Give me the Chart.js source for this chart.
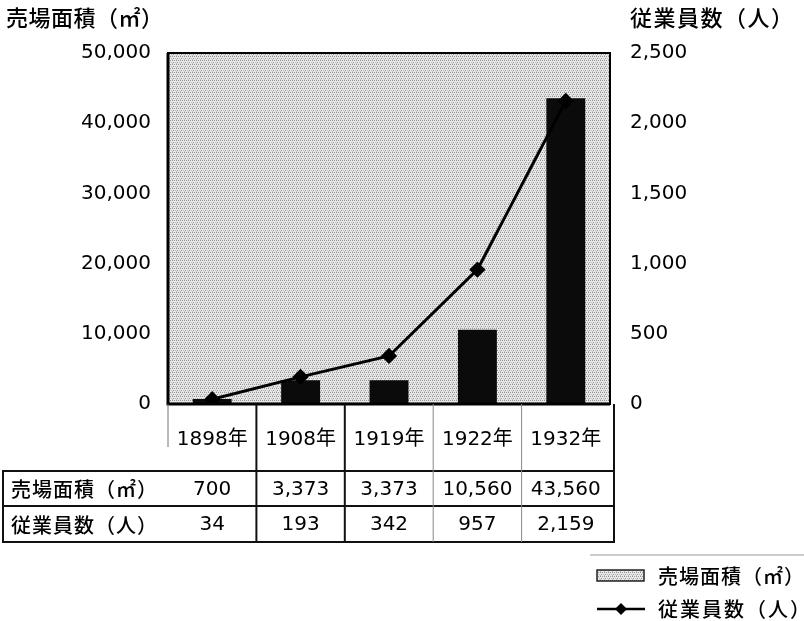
<!DOCTYPE html>
<html>
<head>
<meta charset="utf-8">
<script src="https://cdn.jsdelivr.net/npm/chart.js@4"></script>
<style>
  html, body { margin: 0; padding: 0; background: #fff; }
  #wrap { width: 804px; height: 621px; position: relative; }
</style>
</head>
<body>
<div id="wrap"><canvas id="chart" width="804" height="621"></canvas></div>
<script>
const years = ['1898年', '1908年', '1919年', '1922年', '1932年'];
const areaValues = [700, 3373, 3373, 10560, 43560];   // 売場面積(㎡)
const staffValues = [34, 193, 342, 957, 2159];        // 従業員数(人)
const areaLabel = '売場面積（㎡）';
const staffLabel = '従業員数（人）';

const FONT = '"DejaVu Sans", "Noto Sans CJK JP", sans-serif';
const CJK = '"Noto Sans CJK JP", sans-serif';

// dotted grey background like the scanned screen tone
const makePattern = (ctx) => {
  const pc = document.createElement('canvas');
  pc.width = 4;
  pc.height = 4;
  const p = pc.getContext('2d');
  p.fillStyle = '#e8e8e8';
  p.fillRect(0, 0, 4, 4);
  p.fillStyle = '#969696';
  p.fillRect(0, 0, 1, 1);
  p.fillRect(2, 0, 1, 1);
  p.fillRect(1, 2, 1, 1);
  p.fillStyle = '#bdbdbd';
  p.fillRect(3, 2, 1, 1);
  p.fillRect(0, 3, 1, 1);
  return ctx.createPattern(pc, 'repeat');
};

const fmt = (v) => v.toLocaleString('en-US');

const extras = {
  id: 'extras',
  beforeDatasetsDraw(chart) {
    const { ctx, chartArea: a } = chart;
    ctx.save();
    ctx.fillStyle = makePattern(ctx);
    ctx.fillRect(a.left, a.top, a.right - a.left, a.bottom - a.top);
    ctx.restore();
  },
  afterDraw(chart) {
    const { ctx, chartArea: a } = chart;
    const xs = chart.scales.x;
    const centers = years.map((y, i) => xs.getPixelForValue(i));
    const step = centers[1] - centers[0];
    const bounds = centers.map(c => c - step / 2);
    bounds.push(centers[centers.length - 1] + step / 2);

    ctx.save();
    // plot frame
    ctx.strokeStyle = '#000';
    ctx.lineWidth = 2;
    ctx.strokeRect(a.left, a.top, a.right - a.left, a.bottom - a.top);
    ctx.lineWidth = 3;
    ctx.beginPath();
    ctx.moveTo(a.left, a.top);
    ctx.lineTo(a.left, a.bottom);
    ctx.lineTo(a.right, a.bottom);
    ctx.stroke();

    // axis titles
    ctx.fillStyle = '#000';
    ctx.textBaseline = 'middle';
    ctx.font = '500 22px ' + CJK;
    ctx.textAlign = 'left';
    ctx.letterSpacing = '0.5px';
    ctx.fillText(areaLabel, 6, 18);
    ctx.letterSpacing = '1.5px';
    ctx.fillText(staffLabel, 630, 18);
    ctx.letterSpacing = '0px';

    // data table
    const tTop = 471, tMid = 506, tBot = 542;
    const tLeft = 3, tRight = a.right + 4;
    ctx.lineWidth = 2;
    ctx.strokeStyle = '#111';
    ctx.strokeRect(tLeft, tTop, tRight - tLeft, tBot - tTop);
    ctx.beginPath();
    ctx.moveTo(tLeft, tMid);
    ctx.lineTo(tRight, tMid);
    ctx.stroke();

    // column separators under the plot
    ctx.lineWidth = 1;
    ctx.strokeStyle = '#777';
    ctx.beginPath();
    ctx.moveTo(bounds[0], a.bottom);
    ctx.lineTo(bounds[0], 447);
    ctx.stroke();
    bounds.slice(1, -1).forEach((b, i) => {
      ctx.lineWidth = i < 2 ? 2 : 1;
      ctx.strokeStyle = i < 2 ? '#111' : '#888';
      ctx.beginPath();
      ctx.moveTo(b, a.bottom);
      ctx.lineTo(b, tBot);
      ctx.stroke();
    });
    ctx.lineWidth = 2;
    ctx.strokeStyle = '#111';
    ctx.beginPath();
    ctx.moveTo(tRight, a.bottom);
    ctx.lineTo(tRight, tBot);
    ctx.stroke();

    ctx.font = '500 20px ' + CJK;
    ctx.textAlign = 'left';
    ctx.letterSpacing = '1px';
    ctx.fillText(areaLabel, 11, (tTop + tMid) / 2 + 1);
    ctx.fillText(staffLabel, 11, (tMid + tBot) / 2 + 1);
    ctx.letterSpacing = '0px';
    ctx.font = '20px ' + FONT;
    ctx.textAlign = 'center';
    centers.forEach((c, i) => {
      ctx.fillText(fmt(areaValues[i]), c, (tTop + tMid) / 2 + 1);
      ctx.fillText(fmt(staffValues[i]), c, (tMid + tBot) / 2 + 1);
    });

    // legend
    ctx.lineWidth = 1;
    ctx.strokeStyle = '#999';
    ctx.beginPath();
    ctx.moveTo(590, 555);
    ctx.lineTo(804, 555);
    ctx.stroke();

    ctx.fillStyle = makePattern(ctx);
    ctx.fillRect(597, 570, 47, 11);
    ctx.lineWidth = 1.5;
    ctx.strokeStyle = '#222';
    ctx.strokeRect(597, 570, 47, 11);

    ctx.lineWidth = 2.5;
    ctx.strokeStyle = '#000';
    ctx.beginPath();
    ctx.moveTo(597, 609);
    ctx.lineTo(645, 609);
    ctx.stroke();
    ctx.fillStyle = '#000';
    ctx.beginPath();
    ctx.moveTo(621, 603);
    ctx.lineTo(627, 609);
    ctx.lineTo(621, 615);
    ctx.lineTo(615, 609);
    ctx.closePath();
    ctx.fill();

    ctx.font = '500 20px ' + CJK;
    ctx.textAlign = 'left';
    ctx.letterSpacing = '1px';
    ctx.fillText(areaLabel, 658, 576);
    ctx.letterSpacing = '2px';
    ctx.fillText(staffLabel, 658, 609);
    ctx.restore();
  }
};

const ctx = document.getElementById('chart').getContext('2d');

const myChart = new Chart(ctx, {
  type: 'bar',
  data: {
    labels: years,
    datasets: [
      {
        type: 'line',
        label: staffLabel,
        data: staffValues,
        yAxisID: 'y1',
        borderColor: '#000',
        backgroundColor: '#000',
        borderWidth: 3,
        pointStyle: 'rectRot',
        pointRadius: 6,
        pointHoverRadius: 6,
        tension: 0,
        order: 0,
      },
      {
        label: areaLabel,
        data: areaValues,
        yAxisID: 'y',
        backgroundColor: '#0b0b0b',
        barPercentage: 0.44,
        categoryPercentage: 1,
        order: 1,
      }
    ]
  },
  options: {
    responsive: false,
    animation: false,
    devicePixelRatio: 1,
    layout: { padding: { top: 53, left: 0, right: 0, bottom: 0 } },
    plugins: {
      legend: { display: false },
      tooltip: { enabled: false },
    },
    scales: {
      x: {
        grid: { display: false, drawTicks: false },
        border: { display: false },
        ticks: { color: '#000', font: { family: FONT, size: 20 }, padding: 24 },
        afterFit: (s) => { s.height = 217; },
      },
      y: {
        position: 'left',
        min: 0,
        max: 50000,
        ticks: { stepSize: 10000, color: '#000', font: { family: FONT, size: 20 }, padding: 17, callback: (v) => fmt(v) },
        grid: { display: false, drawTicks: false },
        border: { display: false },
        afterFit: (s) => { s.width = 168; },
      },
      y1: {
        position: 'right',
        min: 0,
        max: 2500,
        ticks: { stepSize: 500, color: '#000', font: { family: FONT, size: 20 }, padding: 20, callback: (v) => fmt(v) },
        grid: { display: false, drawTicks: false },
        border: { display: false },
        afterFit: (s) => { s.width = 194; },
      },
    }
  },
  plugins: [extras]
});
</script>
</body>
</html>
